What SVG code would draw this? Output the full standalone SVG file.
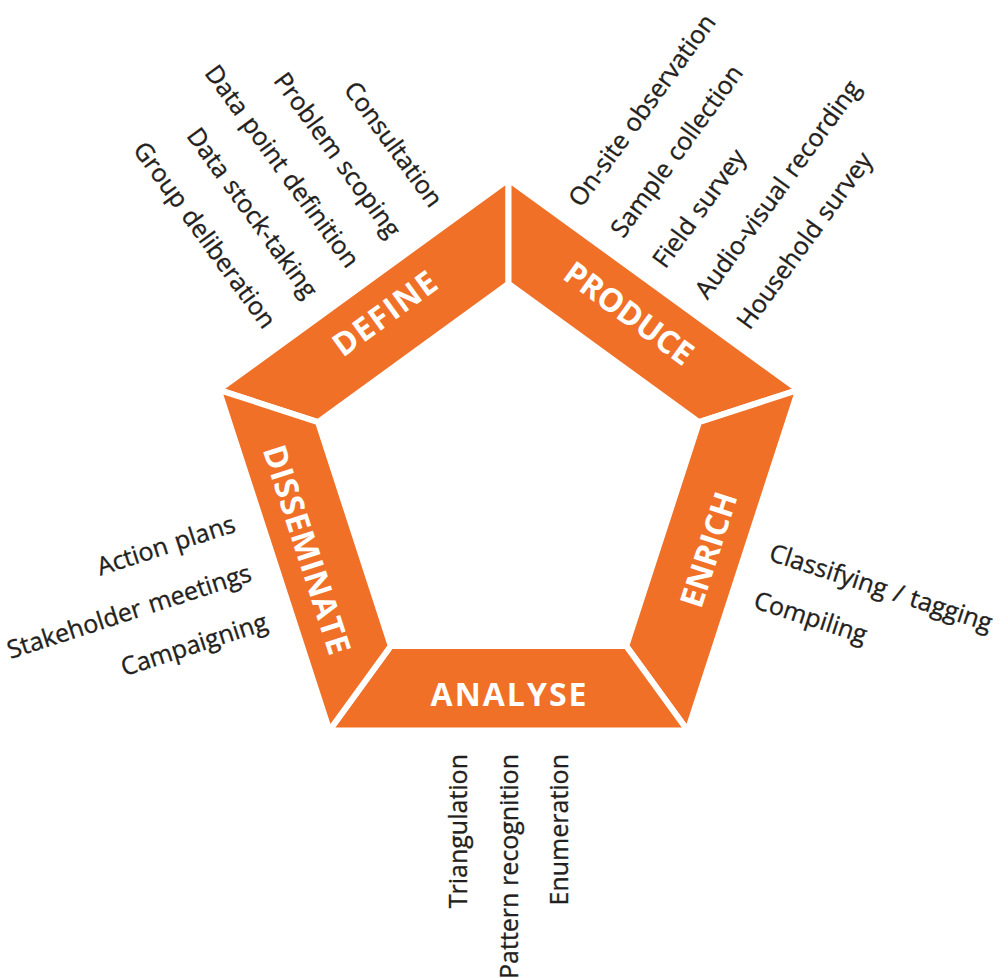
<svg xmlns="http://www.w3.org/2000/svg" width="1008" height="978" viewBox="0 0 1008 978">
  <style>
    .seg { fill: #F07027; stroke: #ffffff; stroke-width: 6; stroke-linejoin: miter; }
    .label { font-family: "Open Sans", "Noto Sans", "Liberation Sans", sans-serif; font-weight: 700; font-size: 32px; fill: #ffffff; text-anchor: middle; }
    .item { font-family: "Open Sans", "Noto Sans", "Liberation Sans", sans-serif; font-size: 25px; word-spacing: 1.5px; fill: #231F20; stroke: #231F20; stroke-width: 0.35px; }
    .end { text-anchor: end; }
    .start { text-anchor: start; }
  </style>
  <rect width="1008" height="978" fill="#ffffff"/>

  <!-- Five-stage cycle: each stage is one side of a pentagonal ring -->
  <g id="define">
    <polygon class="seg" points="218.71,389.84 508.5,179.3 508.5,283.7 318.0,422.1"/>
    <text class="label" transform="translate(384.6,313.5) rotate(-36)" y="11.5" textLength="120" lengthAdjust="spacing">DEFINE</text>
    <g class="item end">
      <text transform="translate(430.0,209.2) rotate(54)">Consultation</text>
      <text transform="translate(388.3,239.5) rotate(54)">Problem scoping</text>
      <text transform="translate(346.7,269.7) rotate(54)">Data point definition</text>
      <text transform="translate(305.0,300.0) rotate(54)">Data stock-taking</text>
      <text transform="translate(263.3,330.3) rotate(54)">Group deliberation</text>
    </g>
  </g>

  <g id="produce">
    <polygon class="seg" points="508.5,179.3 798.29,389.84 699.0,422.1 508.5,283.7"/>
    <text class="label" transform="translate(629,313) rotate(36)" y="11.5" textLength="151" lengthAdjust="spacing">PRODUCE</text>
    <g class="item start">
      <text transform="translate(581.2,208.6) rotate(-54)">On-site observation</text>
      <text transform="translate(623.2,239.2) rotate(-54)">Sample collection</text>
      <text transform="translate(665.3,269.8) rotate(-54)">Field survey</text>
      <text transform="translate(707.4,300.4) rotate(-54)">Audio-visual recording</text>
      <text transform="translate(749.4,330.9) rotate(-54)">Household survey</text>
    </g>
  </g>

  <g id="enrich">
    <polygon class="seg" points="798.29,389.84 687.6,730.51 626.23,646.05 699.0,422.1"/>
    <text class="label" transform="translate(708.5,549.5) rotate(-72)" y="11.5" textLength="119" lengthAdjust="spacing">ENRICH</text>
    <g class="item start">
      <text transform="translate(767.8,559.9) rotate(18)">Classifying / tagging</text>
      <text transform="translate(752.3,607.4) rotate(18)">Compiling</text>
    </g>
  </g>

  <g id="analyse">
    <polygon class="seg" points="687.6,730.51 329.4,730.51 390.77,646.05 626.23,646.05"/>
    <text class="label" transform="translate(508.5,694.6)" y="11.5" textLength="156" lengthAdjust="spacing">ANALYSE</text>
    <g class="item end">
      <text transform="translate(467,754) rotate(-90)">Triangulation</text>
      <text transform="translate(518,754) rotate(-90)" word-spacing="0">Pattern recognition</text>
      <text transform="translate(568,754) rotate(-90)">Enumeration</text>
    </g>
  </g>

  <g id="disseminate">
    <polygon class="seg" points="329.4,730.51 218.71,389.84 318.0,422.1 390.77,646.05"/>
    <text class="label" transform="translate(307,549.5) rotate(72)" y="11.5" textLength="218" lengthAdjust="spacing">DISSEMINATE</text>
    <g class="item end">
      <text transform="translate(237.2,531.2) rotate(-18)">Action plans</text>
      <text transform="translate(253.2,580.2) rotate(-18)">Stakeholder meetings</text>
      <text transform="translate(269.1,629.2) rotate(-18)">Campaigning</text>
    </g>
  </g>

  <!-- the stages are joined edge to edge; there are no separate connectors -->
  <g id="connectors"/>
</svg>
